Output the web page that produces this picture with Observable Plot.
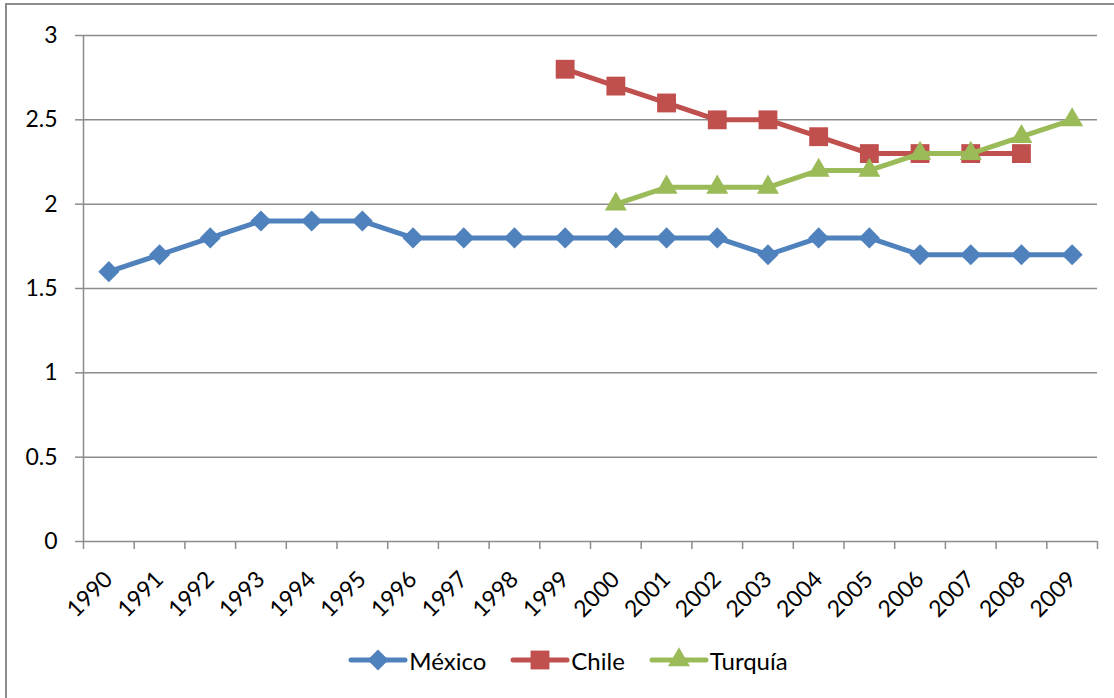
<!DOCTYPE html>
<html>
<head>
<meta charset="utf-8">
<script src="https://cdn.jsdelivr.net/npm/d3@7"></script>
<script src="https://cdn.jsdelivr.net/npm/@observablehq/plot@0.6"></script>
<style>
  html, body { margin: 0; padding: 0; background: #fff; overflow: hidden; }
  body { width: 1114px; height: 698px; position: relative; font-family: Lato, "Open Sans", sans-serif; }
  #frame { position: absolute; left: 5px; top: 3px; width: 1200px; height: 800px; border: 2px solid #8c8c8c; box-sizing: border-box; }
  #chart { position: absolute; left: 0; top: 0; }
  #legend { position: absolute; left: 0; top: 645px; width: 1114px; display: flex; justify-content: center; font-size: 24px; color: #000; padding-left: 22px; box-sizing: border-box; }
  .item { display: flex; align-items: center; margin: 0 12px; }
  .item svg { margin-right: 1px; }
</style>
</head>
<body>
<div id="frame"></div>
<div id="chart"></div>
<div id="legend"></div>
<script>
// Years on the horizontal axis
const years = [1990, 1991, 1992, 1993, 1994, 1995, 1996, 1997, 1998, 1999,
               2000, 2001, 2002, 2003, 2004, 2005, 2006, 2007, 2008, 2009];

// Series values (null where a country has no data)
const mexico  = [1.6, 1.7, 1.8, 1.9, 1.9, 1.9, 1.8, 1.8, 1.8, 1.8,
                 1.8, 1.8, 1.8, 1.7, 1.8, 1.8, 1.7, 1.7, 1.7, 1.7];
const chile   = [null, null, null, null, null, null, null, null, null, 2.8,
                 2.7, 2.6, 2.5, 2.5, 2.4, 2.3, 2.3, 2.3, 2.3, null];
const turquia = [null, null, null, null, null, null, null, null, null, null,
                 2.0, 2.1, 2.1, 2.1, 2.2, 2.2, 2.3, 2.3, 2.4, 2.5];

const yTicks = [0, 0.5, 1, 1.5, 2, 2.5, 3];

const series = [
  {name: "México",  values: mexico,  color: "#4F81BD", symbol: "diamond2", r: 9.5},
  {name: "Chile",   values: chile,   color: "#C0504D", symbol: "square2",  r: 12},
  {name: "Turquía", values: turquia, color: "#9BBB59", symbol: "triangle2", r: 10.5}
];

const rows = series.map(s =>
  years.map((year, i) => ({year, value: s.values[i], name: s.name}))
       .filter(d => d.value != null)
);

// Category boundaries sit half a year either side of each label
const bounds = d3.range(years.length + 1).map(i => years[0] - 0.5 + i);

const grey = "#8c8c8c";

const marks = [
  Plot.ruleY(yTicks.filter(v => v > 0), {stroke: grey, strokeWidth: 1.5}),
  Plot.axisY({ticks: yTicks, tickSize: 8, tickPadding: 18, fontSize: 23, stroke: grey, strokeWidth: 1.5,
              tickFormat: d => String(d), label: null, fill: "#000"}),
  Plot.axisX({ticks: bounds, tickSize: 8, tickFormat: () => "", stroke: grey, strokeWidth: 1.5, label: null}),
  Plot.axisX({ticks: years, tickSize: 0, tickPadding: 34, tickRotate: -45, fontSize: 23,
              tickFormat: d => String(d), label: null, fill: "#000"}),
  Plot.ruleX([bounds[0]], {stroke: grey, strokeWidth: 1.5}),
  Plot.ruleY([0], {stroke: grey, strokeWidth: 1.5})
];

series.forEach((s, k) => {
  marks.push(Plot.line(rows[k], {x: "year", y: "value", stroke: s.color, strokeWidth: 5, strokeLinejoin: "round", strokeLinecap: "round"}));
  marks.push(Plot.dot(rows[k], {x: "year", y: "value", fill: s.color, stroke: "none", symbol: s.symbol, r: s.r}));
});

const chart = Plot.plot({
  width: 1114,
  height: 630,
  marginLeft: 83,
  marginRight: 17,
  marginTop: 35,
  marginBottom: 89,
  style: {fontFamily: "Lato, 'Open Sans', sans-serif", fontSize: "23px", background: "transparent"},
  x: {type: "linear", domain: [bounds[0], bounds[bounds.length - 1]], axis: null},
  y: {domain: [0, 3], axis: null},
  marks
});
document.getElementById("chart").appendChild(chart);

// Legend: line sample with the series marker, then the name
const legend = document.getElementById("legend");
const symbols = {diamond2: d3.symbolDiamond2, square2: d3.symbolSquare2, triangle2: d3.symbolTriangle2};
series.forEach(s => {
  const item = document.createElement("div");
  item.className = "item";
  const sw = d3.create("svg").attr("width", 60).attr("height", 30);
  sw.append("line").attr("x1", 3).attr("x2", 57).attr("y1", 15).attr("y2", 15)
    .attr("stroke", s.color).attr("stroke-width", 5).attr("stroke-linecap", "round");
  sw.append("path").attr("transform", "translate(30,15)")
    .attr("d", d3.symbol(symbols[s.symbol], Math.PI * s.r * s.r)()).attr("fill", s.color);
  item.appendChild(sw.node());
  const label = document.createElement("span");
  label.textContent = s.name;
  item.appendChild(label);
  legend.appendChild(item);
});
</script>
</body>
</html>
